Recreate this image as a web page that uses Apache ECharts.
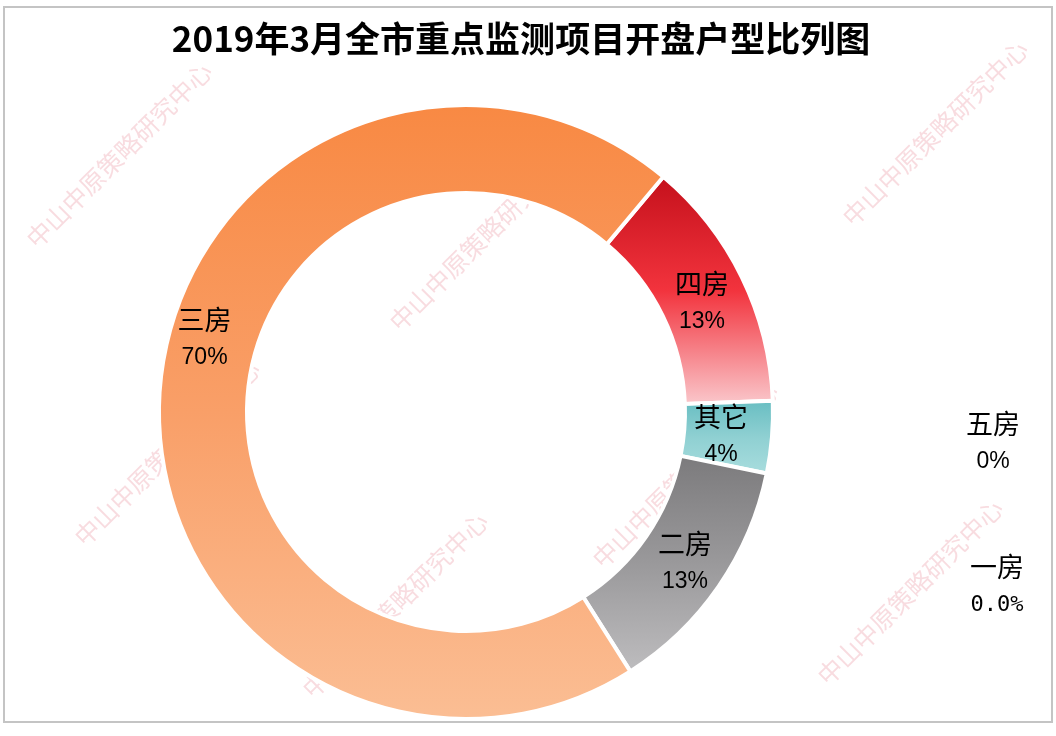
<!DOCTYPE html>
<html>
<head>
<meta charset="utf-8">
<script src="https://cdn.jsdelivr.net/npm/echarts@6/dist/echarts.min.js"></script>
<style>
  html, body { margin: 0; padding: 0; background: #ffffff; }
  #chart { width: 1056px; height: 736px; }
</style>
</head>
<body>
<div id="chart"></div>
<script>
// ---- data ----
const titleText = '2019年3月全市重点监测项目开盘户型比列图';
const categories = ['四房', '其它', '二房', '三房', '五房', '一房'];
const values = [13.3, 3.8, 12.8, 70.1, 0, 0];
const pctLabels = ['13%', '4%', '13%', '70%', '0%', '0.0%'];
const watermarkText = '中山中原策略研究中心';

// ---- styles ----
const gradients = [
  ['#C4101B', '#F2333D', '#FAC9CD'],
  ['#66BDC1', '#8FD0D2', '#A9DDDE'],
  ['#7B7A7C', '#9A999B', '#BEBDBF'],
  ['#F88943', '#F99F68', '#FBBE94'],
  ['#ffffff', '#ffffff', '#ffffff'],
  ['#ffffff', '#ffffff', '#ffffff']
];
function grad(c) {
  return { type: 'linear', x: 0, y: 0, x2: 0, y2: 1,
    colorStops: [{ offset: 0, color: c[0] }, { offset: 0.5, color: c[1] }, { offset: 1, color: c[2] }] };
}
const outsideLabelPos = { '五房': [993, 443], '一房': [997, 586] };
const labelShift = { '三房': [4, -56], '其它': [-10, 2], '四房': [-3, 8] };

const seriesData = categories.map((name, i) => ({
  name: name,
  value: values[i],
  itemStyle: { color: grad(gradients[i]), borderColor: '#ffffff', borderWidth: values[i] > 0 ? 4 : 0 }
}));

const watermarkCenters = [[119, 155], [482, 238], [167, 453], [395, 605], [685, 475], [935, 133], [910, 592]];
const graphics = [
  { type: 'rect', z: -10, silent: true, shape: { x: 4, y: 7, width: 1048, height: 715 },
    style: { fill: 'none', stroke: '#c4c4c4', lineWidth: 2 } }
];
watermarkCenters.forEach(c => {
  graphics.push({
    type: 'text', x: c[0], y: c[1], rotation: Math.PI / 4, z: -5, silent: true,
    style: { text: watermarkText, fill: 'rgba(230,130,145,0.28)', fontSize: 25,
      fontFamily: 'Noto Sans CJK SC', align: 'center', verticalAlign: 'middle' }
  });
});

const chart = echarts.init(document.getElementById('chart'), null, { renderer: 'canvas' });
chart.setOption({
  backgroundColor: '#ffffff',
  animation: false,
  title: {
    text: titleText,
    left: 521,
    textAlign: 'center',
    top: 21,
    padding: 0,
    textStyle: { fontSize: 35, fontWeight: 'bold', color: '#000000', fontFamily: 'Noto Sans CJK SC' }
  },
  graphic: graphics,
  series: [{
    type: 'pie',
    center: [466, 412],
    radius: [219, 307],
    startAngle: 50,
    clockwise: true,
    avoidLabelOverlap: false,
    label: {
      show: true,
      position: 'inside',
      formatter: p => '{n|' + p.name + '}\n{' + (pctLabels[p.dataIndex].indexOf('.') >= 0 ? 'm' : 'p') + '|' + pctLabels[p.dataIndex] + '}',
      color: '#000000',
      lineHeight: 38,
      rich: {
        n: { fontFamily: 'Noto Sans CJK SC', fontSize: 27, lineHeight: 38, color: '#000' },
        p: { fontFamily: 'Liberation Sans', fontSize: 23, lineHeight: 38, color: '#000' },
        m: { fontFamily: 'DejaVu Sans Mono', fontSize: 22, lineHeight: 38, color: '#000' }
      }
    },
    labelLine: { show: false },
    labelLayout: function (params) {
      const name = categories[params.dataIndex];
      if (outsideLabelPos[name]) {
        return { x: outsideLabelPos[name][0], y: outsideLabelPos[name][1], align: 'center', verticalAlign: 'middle' };
      }
      if (labelShift[name]) {
        return { dx: labelShift[name][0], dy: labelShift[name][1] };
      }
      return {};
    },
    emphasis: { disabled: true },
    data: seriesData
  }]
});
</script>
</body>
</html>
